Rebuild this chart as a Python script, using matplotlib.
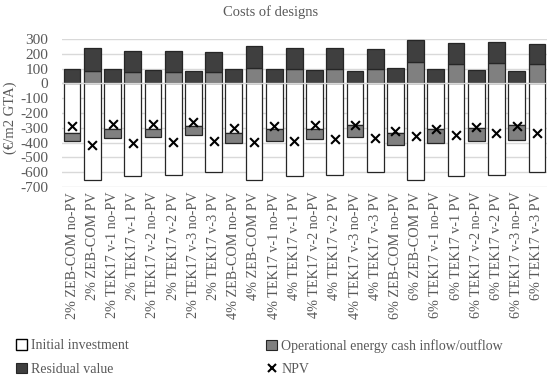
import matplotlib
matplotlib.use("Agg")
import matplotlib.pyplot as plt
from matplotlib.patches import Patch
from matplotlib.lines import Line2D
import numpy as np

plt.rcParams['font.family'] = ['Liberation Serif', 'DejaVu Serif']
plt.rcParams['axes.unicode_minus'] = False

# categories
labels = ["2% ZEB-COM no-PV", "2% ZEB-COM PV", "2% TEK17 v-1 no-PV", "2% TEK17 v-1 PV",
          "2% TEK17 v-2 no-PV", "2% TEK17 v-2 PV", "2% TEK17 v-3 no-PV", "2% TEK17 v-3 PV",
          "4% ZEB-COM no-PV", "4% ZEB-COM PV", "4% TEK17 v-1 no-PV", "4% TEK17 v-1 PV",
          "4% TEK17 v-2 no-PV", "4% TEK17 v-2 PV", "4% TEK17 v-3 no-PV", "4% TEK17 v-3 PV",
          "6% ZEB-COM no-PV", "6% ZEB-COM PV", "6% TEK17 v-1 no-PV", "6% TEK17 v-1 PV",
          "6% TEK17 v-2 no-PV", "6% TEK17 v-2 PV", "6% TEK17 v-3 no-PV", "6% TEK17 v-3 PV"]

# series values (EUR/m2 GTA)
initial = [-334, -650, -311, -625, -305, -616, -286, -600,
           -338, -650, -311, -625, -305, -616, -284, -600,
           -336, -650, -309, -625, -300, -616, -284, -600]
operational = [-58, 83, -61, 79, -58, 79, -64, 74,
               -66, 106, -77, 95, -69, 99, -81, 95,
               -81, 142, -97, 131, -92, 135, -99, 129]
residual = [99, 154, 95, 142, 90, 142, 86, 136,
            99, 149, 95, 146, 90, 142, 86, 135,
            101, 151, 95, 144, 90, 145, 86, 135]
npv = [-289, -417, -277, -406, -275, -395, -264, -388,
       -300, -395, -289, -388, -282, -379, -282, -368,
       -320, -356, -305, -350, -296, -338, -289, -334]

x = np.arange(len(labels))
w = 0.83
txt = '#595959'
c_init = 'white'
c_op = '#808080'
c_res = '#3f3f3f'

fig = plt.figure(figsize=(5.5, 3.85), dpi=100)
ax = fig.add_axes([62/550, 1-187/385, 485/550, 148/385])

op = np.array(operational, dtype=float)
ini = np.array(initial, dtype=float)
res = np.array(residual, dtype=float)

# negative stack: initial, then negative operational below it
ax.bar(x, ini, w, color=c_init, edgecolor='#262626', linewidth=0.9, zorder=2)
op_bottom = np.where(op < 0, ini, 0)
ax.bar(x, op, w, bottom=op_bottom, color=c_op, edgecolor='#262626', linewidth=0.9, zorder=2)
# positive stack: residual on top of positive operational
res_bottom = np.where(op > 0, op, 0)
ax.bar(x, res, w, bottom=res_bottom, color=c_res, edgecolor='#262626', linewidth=0.9, zorder=2)
ax.scatter(x, npv, marker='x', s=40, color='black', linewidths=1.5, zorder=4)
ax.axhline(0, color='#d9d9d9', linewidth=1, zorder=3)

ax.set_ylim(-700, 300)
ax.set_xlim(-0.5, len(labels) - 0.5)
ax.set_yticks(np.arange(-700, 301, 100))
ax.yaxis.grid(True, color='#d9d9d9', linewidth=1, zorder=0)
ax.set_axisbelow(True)
for s in ax.spines.values():
    s.set_visible(False)
ax.tick_params(axis='both', length=0, colors=txt)
ax.tick_params(axis='y', pad=10, labelsize=11)
ax.tick_params(axis='x', labelsize=10.2)
ax.set_xticks(x)
ax.set_xticklabels(labels, rotation=90, color=txt)
ax.set_ylabel('(€/m2 GTA)', color=txt, fontsize=10.5)
ax.yaxis.set_label_coords(-0.092, 0.47)
fig.text(271/550, 1-12/385, 'Costs of designs', ha='center', va='center', color=txt, fontsize=10.5)

h_init = Patch(facecolor=c_init, edgecolor='black', linewidth=1)
h_op = Patch(facecolor=c_op, edgecolor='#262626', linewidth=0.8)
h_res = Patch(facecolor=c_res, edgecolor='#262626', linewidth=0.8)
h_npv = Line2D([], [], marker='x', color='black', linestyle='None', markersize=6, markeredgewidth=1.5)

kw = dict(frameon=False, fontsize=10, handlelength=0.8, handleheight=0.8,
          handletextpad=0.3, labelspacing=0.75, labelcolor=txt, borderaxespad=0, borderpad=0)
leg1 = fig.legend([h_init, h_res], ['Initial investment', 'Residual value'],
                  loc='upper left', bbox_to_anchor=(16/550, 1-339/385), **kw)
leg2 = fig.legend([h_op, h_npv], ['Operational energy cash inflow/outflow', 'NPV'],
                  loc='upper left', bbox_to_anchor=(266/550, 1-339/385), **kw)

fig.savefig('out.png', dpi=100)
